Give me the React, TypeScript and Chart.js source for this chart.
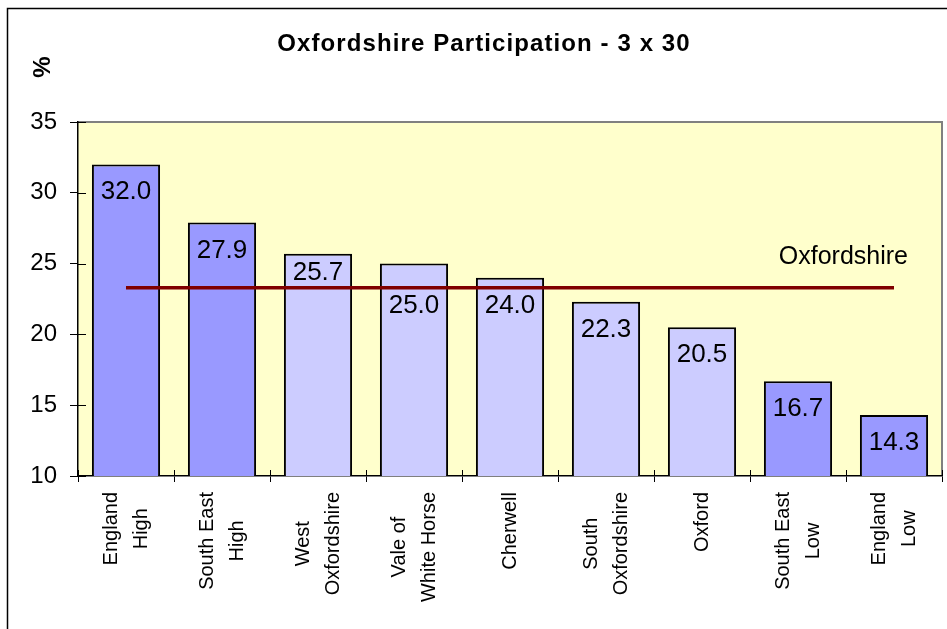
import React, { useEffect, useRef } from "react";
import { Chart, registerables } from "chart.js";

Chart.register(...registerables);

const categories: string[][] = [
  ["England", "High"],
  ["South East", "High"],
  ["West", "Oxfordshire"],
  ["Vale of", "White Horse"],
  ["Cherwell"],
  ["South", "Oxfordshire"],
  ["Oxford"],
  ["South East", "Low"],
  ["England", "Low"],
];
const participation = [32.0, 27.9, 25.7, 25.0, 24.0, 22.3, 20.5, 16.7, 14.3];
const isBenchmark = [true, true, false, false, false, false, false, true, true];
const oxfordshireAverage = 23.3;
const oxfordshireLabel = "Oxfordshire";
const chartTitle = "Oxfordshire Participation - 3 x 30";
const yAxisTitle = "%";
const yMin = 10;
const yMax = 35;
const yStep = 5;

const FONT = "Arial, 'Liberation Sans', sans-serif";

const decorPlugin = {
  id: "decor",
  beforeDraw(chart: any) {
    const { ctx, chartArea } = chart;
    ctx.save();
    ctx.fillStyle = "#ffffff";
    ctx.fillRect(0, 0, chart.width, chart.height);
    ctx.strokeStyle = "#000000";
    ctx.lineWidth = 1.5;
    ctx.strokeRect(7.5, 8.5, 3000, 3000);
    ctx.fillStyle = "#FFFFCC";
    ctx.fillRect(chartArea.left, chartArea.top, chartArea.right - chartArea.left, chartArea.bottom - chartArea.top);
    ctx.strokeStyle = "#808080";
    ctx.lineWidth = 2;
    ctx.beginPath();
    ctx.moveTo(chartArea.left, chartArea.top);
    ctx.lineTo(chartArea.right, chartArea.top);
    ctx.lineTo(chartArea.right, chartArea.bottom);
    ctx.stroke();

    // title
    ctx.fillStyle = "#000";
    ctx.font = `bold 24px ${FONT}`;
    (ctx as any).letterSpacing = "1.1px";
    ctx.textAlign = "center";
    ctx.textBaseline = "middle";
    ctx.fillText(chartTitle, 484, 44);
    (ctx as any).letterSpacing = "0px";

    // y axis title
    ctx.save();
    ctx.translate(43, 67);
    ctx.rotate(-Math.PI / 2);
    ctx.font = `bold 24px ${FONT}`;
    ctx.textAlign = "center";
    ctx.textBaseline = "middle";
    ctx.fillText(yAxisTitle, 0, 0);
    ctx.restore();
    ctx.restore();
  },
  afterDraw(chart: any) {
    const { ctx, chartArea } = chart;
    const xs = chart.scales.x;
    const ys = chart.scales.y;
    ctx.save();
    ctx.strokeStyle = "#000";
    ctx.lineWidth = 1;
    // inward tick halves
    ys.ticks.forEach((_: any, i: number) => {
      const y = Math.round(ys.getPixelForTick(i)) + 0.5;
      ctx.beginPath();
      ctx.moveTo(chartArea.left, y);
      ctx.lineTo(chartArea.left + 8, y);
      ctx.stroke();
    });
    for (let i = 0; i <= categories.length; i++) {
      const x = Math.round(chartArea.left + (i * (chartArea.right - chartArea.left)) / categories.length) + 0.5;
      ctx.beginPath();
      ctx.moveTo(x, chartArea.bottom);
      ctx.lineTo(x, chartArea.bottom - 6);
      ctx.stroke();
    }
    // category labels, vertical, centered lines
    ctx.fillStyle = "#000";
    ctx.font = `20px ${FONT}`;
    const lh = 30;
    categories.forEach((lines, i) => {
      const cx = xs.getPixelForValue(i);
      const maxW = Math.max(...lines.map((l) => ctx.measureText(l).width));
      ctx.save();
      ctx.translate(cx, chartArea.bottom + 16);
      ctx.rotate(-Math.PI / 2);
      ctx.textAlign = "center";
      ctx.textBaseline = "middle";
      lines.forEach((l, j) => {
        ctx.fillText(l, -maxW / 2, (j - (lines.length - 1) / 2) * lh);
      });
      ctx.restore();
    });
    ctx.restore();
  },
  afterDatasetsDraw(chart: any) {
    const { ctx } = chart;
    const meta = chart.getDatasetMeta(1);
    const xs = chart.scales.x;
    const ys = chart.scales.y;
    const lineY = ys.getPixelForValue(oxfordshireAverage);
    ctx.save();
    ctx.fillStyle = "#000";
    ctx.font = `26px ${FONT}`;
    ctx.textAlign = "center";
    ctx.textBaseline = "alphabetic";
    const digitH = 19;
    meta.data.forEach((bar: any, i: number) => {
      let top = bar.y + 16;
      // keep the value clear of the Oxfordshire line
      if (top <= lineY + 3 && top + digitH >= lineY - 3) {
        const above = lineY - 8 - digitH;
        top = above >= bar.y + 3 ? above : lineY + 6;
      }
      ctx.fillText(participation[i].toFixed(1), bar.x, top + digitH);
    });
    ctx.font = `25px ${FONT}`;
    ctx.textAlign = "right";
    ctx.textBaseline = "middle";
    ctx.fillText(oxfordshireLabel, xs.getPixelForValue(categories.length - 1) + 14, lineY - 31);
    ctx.restore();
  },
};

export default function App() {
  const ref = useRef<HTMLCanvasElement>(null);
  useEffect(() => {
    if (!ref.current) return;
    const chart = new Chart(ref.current, {
      type: "bar",
      data: {
        labels: categories,
        datasets: [
          {
            type: "line",
            label: oxfordshireLabel,
            data: categories.map(() => oxfordshireAverage),
            borderColor: "#800000",
            borderWidth: 3.5,
            pointRadius: 0,
            fill: false,
            order: 0,
          } as any,
          {
            type: "bar",
            label: "Participation",
            data: participation,
            backgroundColor: isBenchmark.map((b) => (b ? "#9999FF" : "#CCCCFF")),
            borderColor: "#000000",
            borderWidth: 2,
            borderSkipped: false,
            barPercentage: 0.71,
            categoryPercentage: 1,
            order: 1,
          },
        ],
      },
      options: {
        responsive: false,
        animation: false,
        layout: { padding: { top: 122, right: 5, left: 0, bottom: 0 } },
        plugins: {
          legend: { display: false },
          tooltip: { enabled: false },
          title: { display: false },
        },
        scales: {
          x: {
            offset: true,
            grid: { display: true, drawOnChartArea: false, tickLength: 6, color: "#000", offset: true },
            border: { display: true, color: "#000", width: 1.5 },
            ticks: { display: false },
            afterFit: (s: any) => {
              s.height = 153;
            },
          },
          y: {
            min: yMin,
            max: yMax,
            grid: { display: true, drawOnChartArea: false, tickLength: 8, color: "#000" },
            border: { display: true, color: "#000", width: 1.5 },
            ticks: {
              stepSize: yStep,
              padding: 13,
              color: "#000",
              font: { size: 24, family: FONT },
            },
            afterFit: (s: any) => {
              s.width = 78;
            },
          },
        },
      },
      plugins: [decorPlugin],
    });
    return () => chart.destroy();
  }, []);
  return (
    <div style={{ position: "absolute", left: 0, top: 0, width: 947, height: 629 }}>
      <canvas ref={ref} width={947} height={629} style={{ display: "block" }} />
    </div>
  );
}
